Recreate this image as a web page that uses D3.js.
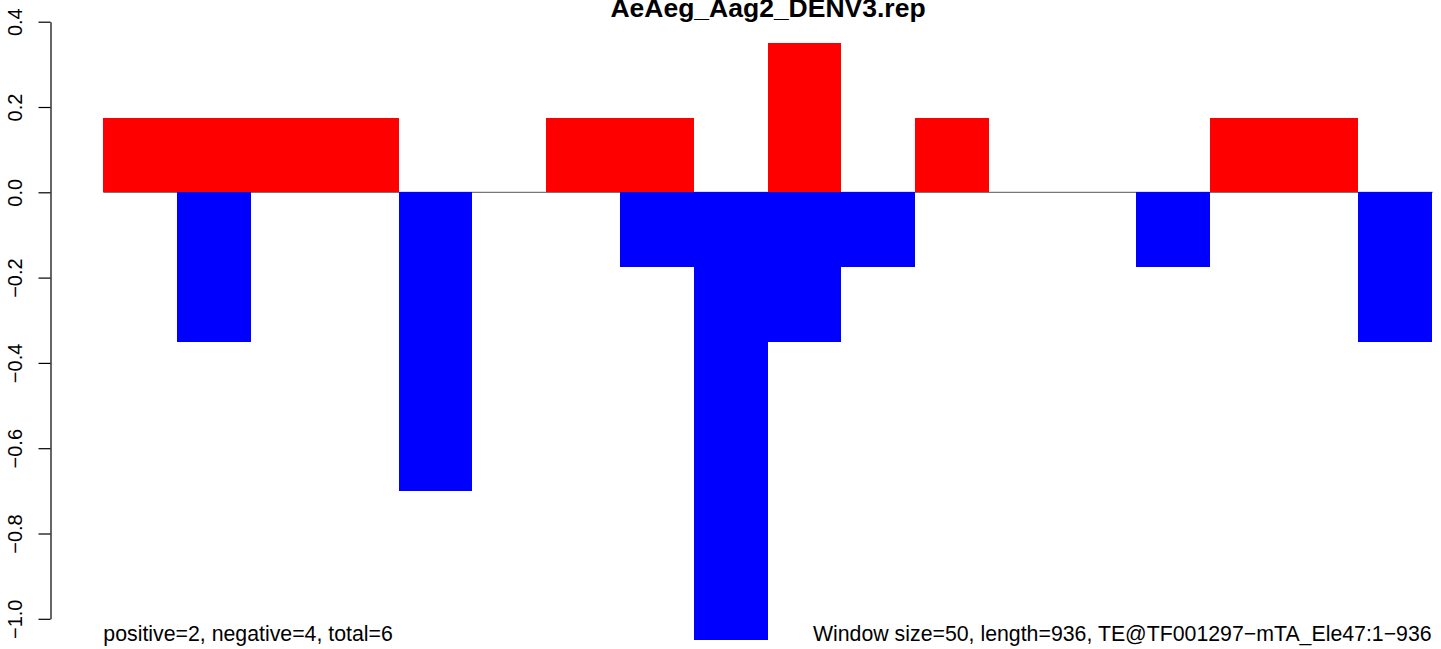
<!DOCTYPE html>
<html><head><meta charset="utf-8">
<script src="https://cdn.jsdelivr.net/npm/d3@7"></script>
<style>body{margin:0;background:#fff}svg{display:block}text{font-family:"Liberation Sans",Arial,sans-serif}</style>
</head><body>
<svg id="c" width="1441" height="649"></svg>
<script>
const title = "AeAeg_Aag2_DENV3.rep";
const windows = d3.range(18);
const positive = [0.175,0.175,0.175,0.175,0,0,0.175,0.175,0,0.35,0,0.175,0,0,0,0.175,0.175,0];
const negative = [0,-0.35,0,0,-0.7,0,0,-0.175,-1.05,-0.35,-0.175,0,0,0,-0.175,0,0,-0.35];
const yTicks = [-1.0,-0.8,-0.6,-0.4,-0.2,0.0,0.2,0.4];
const leftNote = "positive=2, negative=4, total=6";
const rightNote = "Window size=50, length=936, TE@TF001297\u2212mTA_Ele47:1\u2212936";

const svg = d3.select("#c");
const n = windows.length;
const x = d3.scaleLinear().domain([-0.04*n, n*1.04]).range([50.2, 1484.8]);
const y = d3.scaleLinear().domain([0.4, -1.0]).range([21.7, 618.8]);

// zero line
svg.append("line").attr("x1", x(0)).attr("x2", x(n)+1).attr("y1", y(0)).attr("y2", y(0))
  .attr("stroke", "#555").attr("stroke-width", 1);

svg.append("g").attr("shape-rendering", "crispEdges").selectAll("rect").data(windows).join("rect")
  .attr("x", i => x(i)).attr("width", x(1)-x(0))
  .attr("y", i => y(positive[i])).attr("height", i => y(0)-y(positive[i]))
  .attr("fill", "#ff0000");
svg.append("g").attr("shape-rendering", "crispEdges").selectAll("rect").data(windows).join("rect")
  .attr("x", i => x(i)).attr("width", x(1)-x(0))
  .attr("y", y(0)).attr("height", i => y(negative[i])-y(0))
  .attr("fill", "#0000ff");

// y axis
const ax = svg.append("g").attr("transform", "translate(50.5,0)")
  .call(d3.axisLeft(y).tickValues(yTicks).tickSize(12).tickSizeOuter(0)
    .tickFormat(d => d3.format(".1f")(d).replace("-", "\u2212")));
ax.select(".domain").attr("stroke", "#000").attr("stroke-width", 1.2);
ax.selectAll(".tick line").attr("stroke", "#000").attr("stroke-width", 1.2);
ax.selectAll(".tick text").attr("x", null).attr("dy", null)
  .attr("transform", "translate(-36,0) rotate(-90)")
  .attr("text-anchor", "middle").attr("dominant-baseline", "auto")
  .attr("y", 7).attr("font-size", 20).attr("fill", "#000");

svg.append("text").attr("x", 768).attr("y", 16.5).attr("text-anchor", "middle")
  .attr("font-weight", "bold").attr("font-size", 26.5).text(title);
svg.append("text").attr("x", x(0)).attr("y", 641).attr("font-size", 21.3).text(leftNote);
svg.append("text").attr("x", x(n)).attr("y", 641).attr("text-anchor", "end").attr("font-size", 21.3).text(rightNote);
</script>
</body></html>
